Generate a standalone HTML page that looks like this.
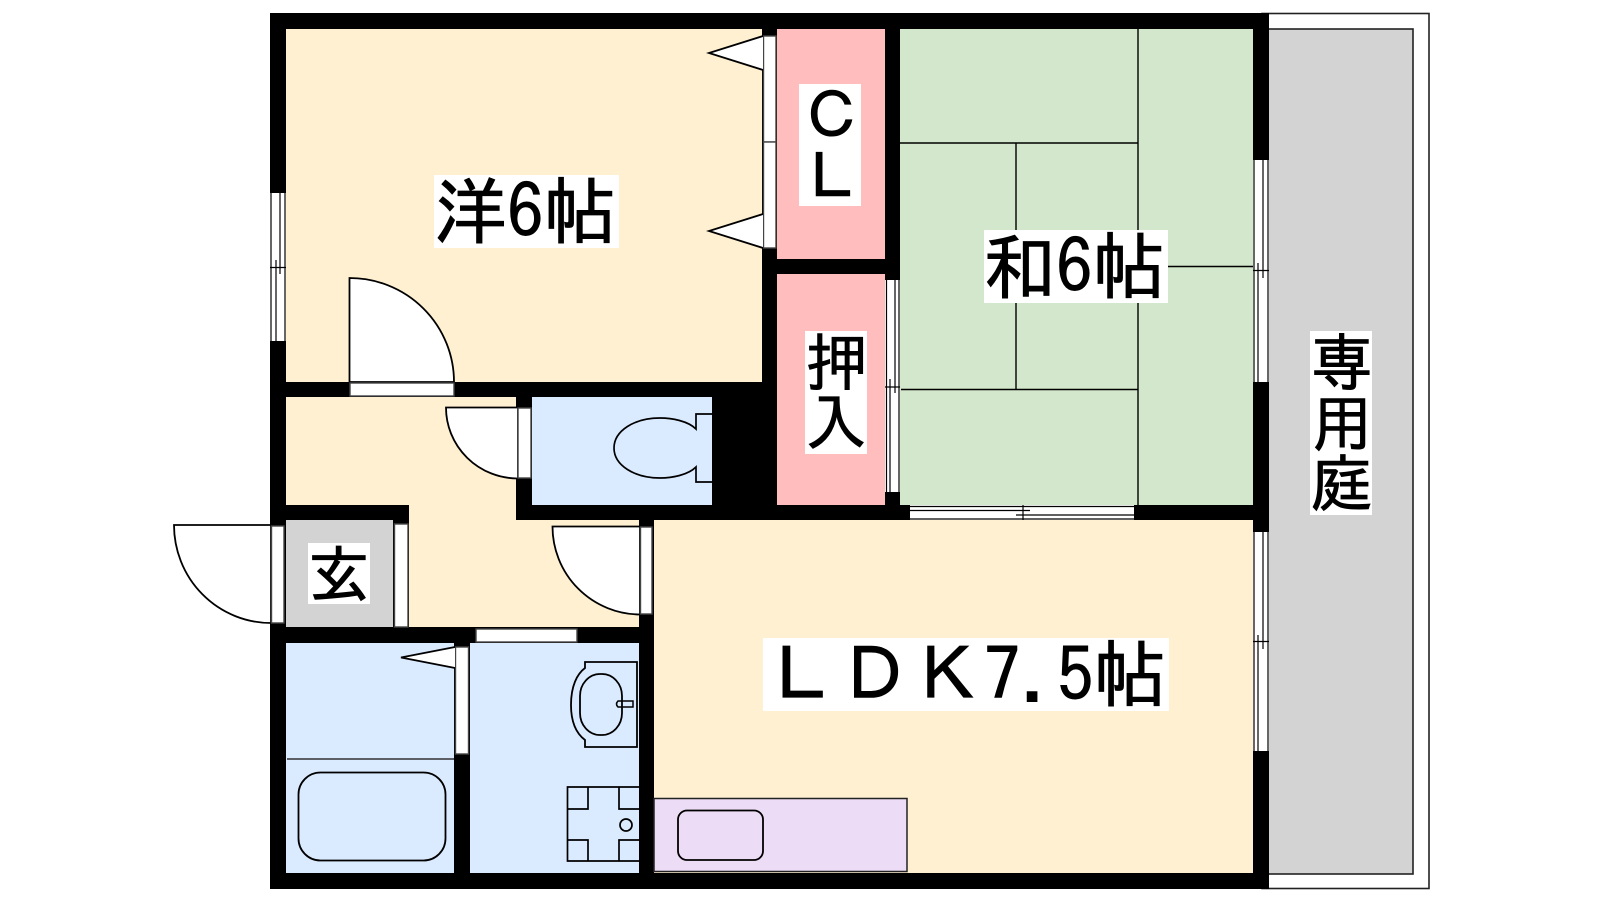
<!DOCTYPE html>
<html lang="ja">
<head>
<meta charset="utf-8">
<title>間取り図</title>
<style>
html,body{margin:0;padding:0;background:#fff;width:1600px;height:900px;overflow:hidden}
svg{display:block}
text{font-family:"IPAGothic","Liberation Sans","Noto Sans CJK JP",sans-serif;fill:#000;stroke:#000;stroke-width:.9}
.l{fill:none;stroke:#000;stroke-width:1.4}
.f{fill:#fff;stroke:#000;stroke-width:1.4}
.a{fill:#fff;stroke:#000;stroke-width:1.8}
.g{fill:#fff;stroke:#444;stroke-width:1.4}
</style>
</head>
<body>
<svg width="1600" height="900" viewBox="0 0 1600 900" xmlns="http://www.w3.org/2000/svg">
<!-- balcony -->
<rect x="1262" y="13.5" width="167" height="875" fill="#fff" stroke="#222" stroke-width="1.6"/>
<rect x="1262" y="29" width="151" height="845" fill="#d3d3d3" stroke="#222" stroke-width="1.6"/>

<!-- walls base -->
<rect x="270" y="13" width="999" height="876" fill="#000"/>

<!-- rooms -->
<rect x="286" y="29" width="476" height="353" fill="#fef0d0"/>
<path d="M286 397H516V505H286ZM409 505H516V520H639V627H409Z" fill="#fef0d0"/>
<rect x="286" y="520" width="107" height="107" fill="#d3d3d3"/>
<rect x="777" y="29" width="108" height="230" fill="#ffbdbd"/>
<rect x="777" y="274" width="108" height="231" fill="#ffbdbd"/>
<rect x="900" y="29" width="353" height="476" fill="#d2e7cb"/>
<rect x="654" y="520" width="599" height="353" fill="#fef0d0"/>
<rect x="532" y="397" width="180" height="108" fill="#dbebff"/>
<rect x="286" y="643" width="168" height="230" fill="#dbebff"/>
<rect x="470" y="643" width="169" height="230" fill="#dbebff"/>

<!-- tatami lines -->
<path class="l" d="M1138 29V505M900 143H1138M1016 143V389.5M901 389.5H1138M1138 266.5H1253"/>

<!-- left window -->
<rect x="270" y="193" width="16" height="148" fill="#fff"/>
<path class="l" stroke-width="1.2" style="stroke-width:1.2" d="M271 193V341M285 193V341M276 260V341M280 193V274M270 267.5H286"/>
<!-- right upper window -->
<rect x="1253" y="160" width="16" height="222" fill="#fff"/>
<path class="l" style="stroke-width:1.2" d="M1254 160V382M1268 160V382M1263 160V278M1258 263V382M1253 270.5H1269"/>
<!-- right lower window -->
<rect x="1253" y="532" width="16" height="219" fill="#fff"/>
<path class="l" style="stroke-width:1.2" d="M1254 532V751M1268 532V751M1263 532V649M1258 635V751M1253 641.5H1269"/>
<!-- oshiire window -->
<rect x="885" y="280" width="15" height="212" fill="#fff"/>
<path class="l" style="stroke-width:1.2" d="M886.500 280V492M899 280V492M895 280V393M890 379V492M885 387H900"/>
<!-- bottom window -->
<rect x="910" y="505" width="224" height="15" fill="#fff"/>
<path class="l" style="stroke-width:1.2" d="M910 506.500H1134M910 519H1134M910 510.500H1030M1016 515H1134M1023 505V520"/>

<!-- CL door -->
<rect class="g" x="763.500" y="36" width="12.500" height="106"/>
<rect class="g" x="763.500" y="142" width="12.500" height="106"/>
<path class="a" d="M763 36L709 53L763 70M763 214L709 231L763 248"/>

<!-- room door -->
<path class="a" d="M349.500 382V278A104.500 104 0 0 1 454 382Z"/>
<rect class="g" x="350" y="383" width="104" height="13"/>
<!-- toilet door -->
<path class="a" d="M518 407.500H446A72 71 0 0 0 518 478.500Z"/>
<rect class="g" x="518" y="408" width="13" height="70"/>
<!-- ldk door -->
<path class="a" d="M640 526.500H552.500A88 88 0 0 0 640 614.500Z"/>
<rect class="g" x="640.500" y="527" width="11.500" height="87"/>
<!-- entrance door -->
<path class="a" d="M271 525H174A97 98 0 0 0 271 623Z"/>
<rect class="g" x="271.500" y="526" width="12.500" height="97"/>
<!-- genkan right -->
<rect class="g" x="394.500" y="524" width="13.500" height="103"/>
<!-- wash door -->
<rect class="g" x="476" y="629" width="101" height="13"/>
<!-- bath door -->
<rect class="g" x="455.500" y="647" width="13" height="107"/>
<path class="a" d="M455 647L401 657.500L455 668"/>

<!-- toilet -->
<path class="l" style="stroke-width:1.7" d="M712 414H696V429C688 421 672 418 660 418C634 418 614 431 614 448C614 465 634 478 660 478C672 478 688 475 696 467V482H712"/>

<!-- bath -->
<path d="M287 759H454" stroke="#333" stroke-width="1.600"/>
<rect class="l" style="stroke-width:1.8" x="298.500" y="772.500" width="147" height="88" rx="22" ry="22"/>

<!-- basin -->
<path class="l" style="stroke-width:1.8" d="M585 668V662H637V747H585V740C577 734 571 724 571 705C571 686 577 674 585 668Z"/>
<rect class="l" style="stroke-width:1.8" x="580" y="674" width="42" height="61" rx="20" ry="22"/>
<path class="l" style="stroke-width:1.5" d="M633 701H618Q615 704 618 707H633Z"/>

<!-- washer -->
<path class="l" style="stroke-width:1.7" d="M639 787H567.500V861H639M567.500 809H588V787M567.500 840H588V861M639 809H619V787M639 840H619V861"/>
<circle class="l" style="stroke-width:1.7" cx="626" cy="825" r="6"/>

<!-- kitchen -->
<rect x="654" y="798.500" width="253" height="73" fill="#eddcf5" stroke="#222" stroke-width="1.500"/>
<rect class="l" style="stroke-width:1.8" x="678" y="810.500" width="85" height="49.500" rx="9" ry="9"/>

<!-- labels -->
<rect x="434" y="175" width="185" height="73" fill="#fff"/>
<text x="434" y="238" font-size="73">洋6帖</text>
<rect x="984" y="230" width="184" height="73" fill="#fff"/>
<text x="983" y="293" font-size="73">和6帖</text>
<rect x="763" y="638" width="406" height="73" fill="#fff"/>
<text x="765" y="701" font-size="73">ＬＤＫ7.5帖</text>
<rect x="308" y="543" width="62" height="61" fill="#fff"/>
<text x="308" y="597" font-size="62">玄</text>
<rect x="799" y="84" width="62" height="122" fill="#fff"/>
<text x="801" y="138" font-size="62">Ｃ</text>
<text x="801" y="199" font-size="62">Ｌ</text>
<rect x="805" y="331" width="62" height="123" fill="#fff"/>
<text x="806" y="385" font-size="62">押</text>
<text x="805" y="445" font-size="62">入</text>
<rect x="1310" y="331" width="62" height="184" fill="#fff"/>
<text x="1311" y="385" font-size="62">専</text>
<text x="1311" y="446" font-size="62">用</text>
<text x="1311" y="506" font-size="62">庭</text>
</svg>
</body>
</html>
